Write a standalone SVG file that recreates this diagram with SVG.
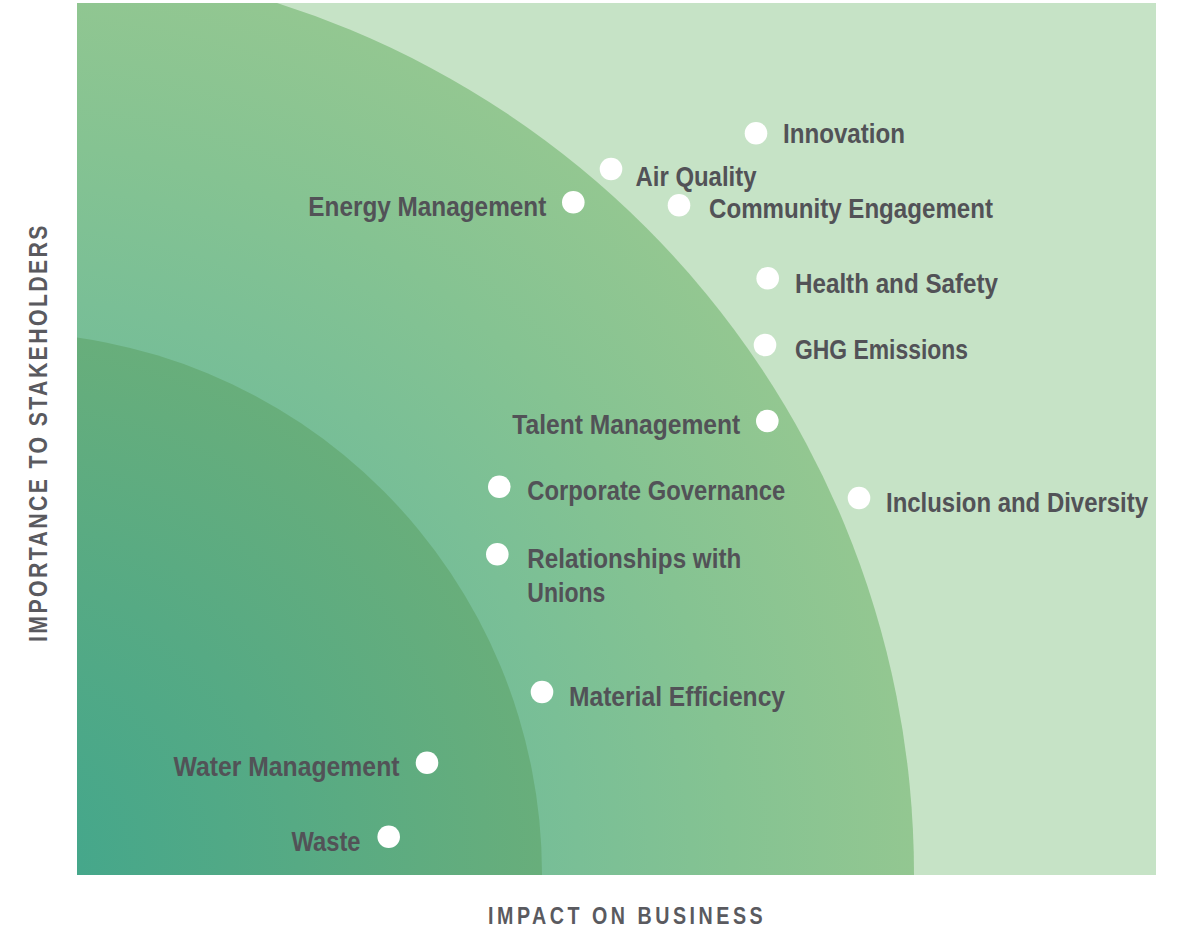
<svg xmlns="http://www.w3.org/2000/svg" width="1181" height="931" viewBox="0 0 1181 931">
  <defs>
    <radialGradient id="gOuter" gradientUnits="userSpaceOnUse" cx="0" cy="874" r="914">
      <stop offset="0" stop-color="#5fb39a"/>
      <stop offset="0.59" stop-color="#77be97"/>
      <stop offset="0.8" stop-color="#85c392"/>
      <stop offset="1" stop-color="#93c791"/>
    </radialGradient>
    <radialGradient id="gInner" gradientUnits="userSpaceOnUse" cx="0" cy="874" r="542">
      <stop offset="0" stop-color="#40a68d"/>
      <stop offset="0.55" stop-color="#56aa84"/>
      <stop offset="1" stop-color="#68ae7b"/>
    </radialGradient>
    <clipPath id="plot">
      <rect x="77" y="3" width="1079" height="872"/>
    </clipPath>
  </defs>
  <style>
    .lbl { font-family: "Liberation Sans", Arial, sans-serif; font-weight: bold; font-size: 28.5px; fill: #525257; }
    .axis { font-family: "Liberation Sans", Arial, sans-serif; font-weight: bold; fill: #5a5a5f; }
    .dot { fill: #ffffff; }
  </style>

  <g id="background">
    <rect x="77" y="3" width="1079" height="872" fill="#c6e3c6"/>
    <g clip-path="url(#plot)">
      <circle cx="0" cy="874" r="914" fill="url(#gOuter)"/>
      <circle cx="0" cy="874" r="542" fill="url(#gInner)"/>
    </g>
  </g>

  <g id="connectors"></g>

  <g id="axis-x">
    <text class="axis" transform="translate(488,924) scale(0.82,1)" x="0" y="0" font-size="24" textLength="335" lengthAdjust="spacing">IMPACT ON BUSINESS</text>
  </g>
  <g id="axis-y">
    <text class="axis" transform="translate(46.5,642) rotate(-90) scale(0.82,1)" x="0" y="0" font-size="26" textLength="508" lengthAdjust="spacing">IMPORTANCE TO STAKEHOLDERS</text>
  </g>

  <g id="innovation">
    <circle class="dot" cx="756" cy="133.3" r="11.3"/>
    <text class="lbl" x="783" y="143.3" textLength="122" lengthAdjust="spacingAndGlyphs">Innovation</text>
  </g>
  <g id="air-quality">
    <circle class="dot" cx="611" cy="169" r="11.3"/>
    <text class="lbl" x="635.5" y="185.5" textLength="121" lengthAdjust="spacingAndGlyphs">Air Quality</text>
  </g>
  <g id="community-engagement">
    <circle class="dot" cx="679" cy="205.3" r="11.3"/>
    <text class="lbl" x="709" y="218.3" textLength="284" lengthAdjust="spacingAndGlyphs">Community Engagement</text>
  </g>
  <g id="energy-management">
    <circle class="dot" cx="573.3" cy="202.3" r="11.3"/>
    <text class="lbl" x="308.3" y="215.5" textLength="238" lengthAdjust="spacingAndGlyphs">Energy Management</text>
  </g>
  <g id="health-and-safety">
    <circle class="dot" cx="767.7" cy="278.3" r="11.3"/>
    <text class="lbl" x="795" y="293.3" textLength="203" lengthAdjust="spacingAndGlyphs">Health and Safety</text>
  </g>
  <g id="ghg-emissions">
    <circle class="dot" cx="765" cy="345" r="11.3"/>
    <text class="lbl" x="795" y="359.3" textLength="173" lengthAdjust="spacingAndGlyphs">GHG Emissions</text>
  </g>
  <g id="talent-management">
    <circle class="dot" cx="767.3" cy="421" r="11.3"/>
    <text class="lbl" x="512.3" y="434.3" textLength="228" lengthAdjust="spacingAndGlyphs">Talent Management</text>
  </g>
  <g id="corporate-governance">
    <circle class="dot" cx="499.3" cy="486.7" r="11.3"/>
    <text class="lbl" x="527.3" y="500.3" textLength="258" lengthAdjust="spacingAndGlyphs">Corporate Governance</text>
  </g>
  <g id="inclusion-and-diversity">
    <circle class="dot" cx="859" cy="498" r="11.3"/>
    <text class="lbl" x="886" y="511.7" textLength="262" lengthAdjust="spacingAndGlyphs">Inclusion and Diversity</text>
  </g>
  <g id="relationships-with-unions">
    <circle class="dot" cx="497.3" cy="554.3" r="11.3"/>
    <text class="lbl" x="527.3" y="568.3" textLength="214" lengthAdjust="spacingAndGlyphs">Relationships with</text>
    <text class="lbl" x="527.3" y="601.7" textLength="78" lengthAdjust="spacingAndGlyphs">Unions</text>
  </g>
  <g id="material-efficiency">
    <circle class="dot" cx="542" cy="692" r="11.3"/>
    <text class="lbl" x="569" y="706" textLength="216" lengthAdjust="spacingAndGlyphs">Material Efficiency</text>
  </g>
  <g id="water-management">
    <circle class="dot" cx="427" cy="762.7" r="11.3"/>
    <text class="lbl" x="173.5" y="775.7" textLength="226" lengthAdjust="spacingAndGlyphs">Water Management</text>
  </g>
  <g id="waste">
    <circle class="dot" cx="388.7" cy="836.7" r="11.3"/>
    <text class="lbl" x="291.5" y="851" textLength="69" lengthAdjust="spacingAndGlyphs">Waste</text>
  </g>
</svg>
